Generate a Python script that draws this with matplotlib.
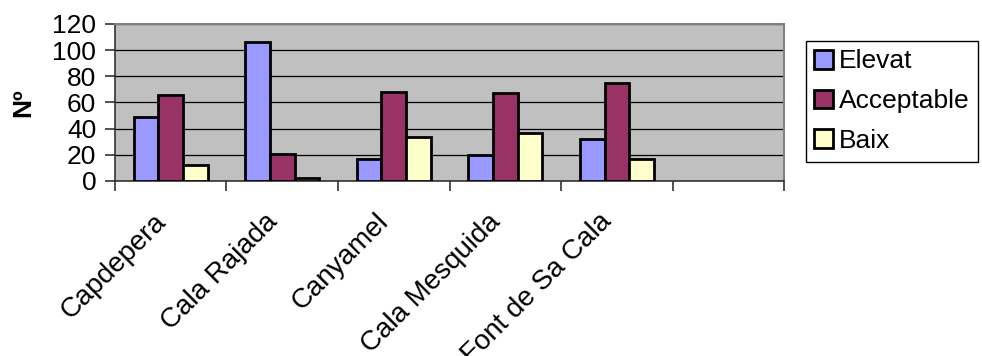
import matplotlib.pyplot as plt
import matplotlib.transforms as mtransforms
import numpy as np

plt.rcParams['font.family'] = ['Liberation Sans', 'DejaVu Sans']

# dades
llocs = ["Capdepera", "Cala Rajada", "Canyamel", "Cala Mesquida", "Font de Sa Cala", ""]
elevat = [49, 106, 17, 20, 32, 0]
acceptable = [66, 21, 68, 67, 75, 0]
baix = [12, 2, 34, 37, 17, 0]
series = ["Elevat", "Acceptable", "Baix"]
colors = ["#9999FF", "#993366", "#FFFFCC"]

FS = 19

fig = plt.figure(figsize=(9.82, 3.56), dpi=100)
ax = fig.add_axes([0.1171, 0.4916, 0.6813, 0.4410])
ax.set_facecolor("#C0C0C0")

x = np.arange(len(llocs)) + 0.5
w = 0.22
for k, (vals, nom, col) in enumerate(zip([elevat, acceptable, baix], series, colors)):
    n = len(llocs) - 1
    ax.bar(x[:n] + (k - 1) * w, vals[:n], w, color=col, edgecolor="black",
           linewidth=2.0, label=nom, zorder=3)

ax.set_xlim(0, len(llocs))
ax.set_ylim(0, 120)
ax.set_yticks(range(0, 121, 20))
ax.yaxis.grid(True, color="black", linewidth=0.9, zorder=1)
ax.set_axisbelow(True)

# marques a les vores de categoria, etiquetes al centre
ax.set_xticks(np.arange(len(llocs) + 1))
ax.set_xticklabels([])
ax.set_xticks(x, minor=True)
ax.set_xticklabels(llocs, minor=True, rotation=45, ha="right",
                   rotation_mode="anchor", fontsize=20)
ax.tick_params(axis="x", which="minor", length=0, pad=20)
ax.tick_params(axis="x", which="major", length=7, width=1.2, color="#333333")
ax.tick_params(axis="y", length=7, width=1.2, color="#333333", labelsize=FS, pad=6.5)

desplac = mtransforms.ScaledTranslation(-18 / 100, 0, fig.dpi_scale_trans)
for lab in ax.get_xticklabels(minor=True):
    lab.set_transform(lab.get_transform() + desplac)

for s in ["top", "right"]:
    ax.spines[s].set_color("#808080")
    ax.spines[s].set_linewidth(1.5)
for s in ["left", "bottom"]:
    ax.spines[s].set_color("#333333")
    ax.spines[s].set_linewidth(1.2)

ax.set_ylabel("Nº", fontsize=FS, fontweight="bold", labelpad=12.5)

leg = fig.legend(loc="upper left", bbox_to_anchor=(0.8208, 0.8848), fontsize=FS,
                 frameon=True, fancybox=False, edgecolor="black", framealpha=1,
                 handlelength=0.72, handleheight=0.72, handletextpad=0.22,
                 labelspacing=0.6, borderpad=0.32, borderaxespad=0)
leg.get_frame().set_linewidth(1.0)
for h in leg.legend_handles:
    h.set_linewidth(2.0)

fig.savefig("out.png", dpi=100)
